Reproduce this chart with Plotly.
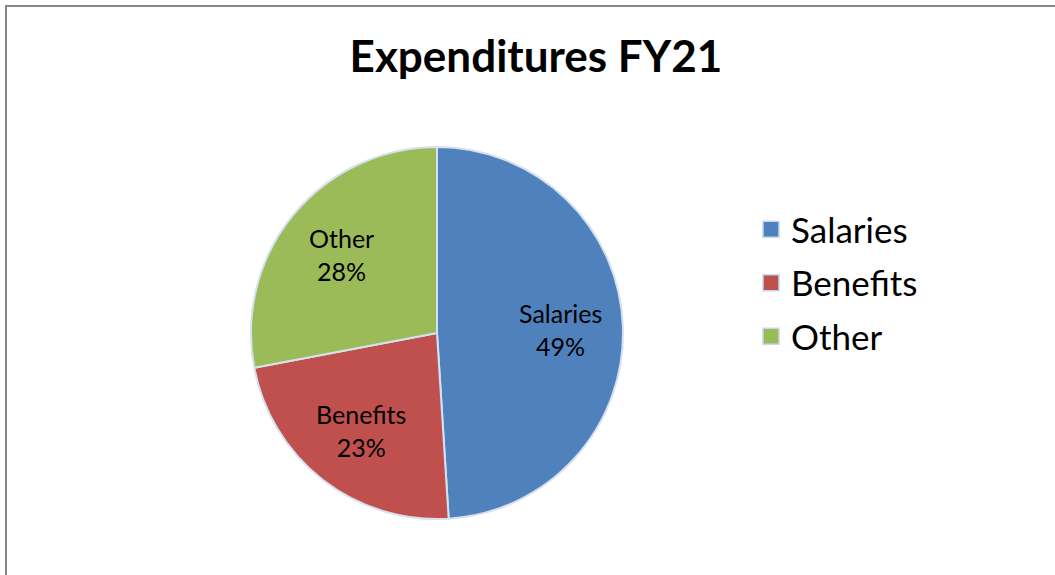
import math
import plotly.graph_objects as go

categories = ["Salaries", "Benefits", "Other"]
values = [49, 23, 28]
colors = ["#4f81bd", "#c0504d", "#9bbb59"]
title_text = "Expenditures FY21"

W, H = 1055, 575
FONT = "Lato, Calibri, Carlito, sans-serif"

CX, CY, R = 437, 333, 186  # pie centre / radius in pixels (from top-left)

fig = go.Figure()

fig.add_trace(go.Pie(
    labels=categories,
    values=values,
    sort=False,
    direction="clockwise",
    rotation=0,
    marker=dict(colors=colors, line=dict(color="#d5e1f0", width=2)),
    textinfo="none",
    showlegend=False,
    hoverinfo="label+percent",
    domain=dict(x=[(CX - R) / W, (CX + R) / W],
                y=[(H - CY - R) / H, (H - CY + R) / H]),
))

# data labels placed at each slice's mid-angle
total = sum(values)
annotations = []
cum = 0
for cat, v in zip(categories, values):
    mid = (cum + v / 2) / total * 2 * math.pi  # clockwise from 12 o'clock
    cum += v
    r = 0.665 * R
    px = CX + r * math.sin(mid)
    py = CY - r * math.cos(mid)
    pct = round(v / total * 100)
    annotations.append(dict(
        x=px / W, y=1 - py / H, xref="paper", yref="paper",
        text=f"{cat}<br>{pct}%", showarrow=False,
        xanchor="center", yanchor="middle", align="center",
        font=dict(family=FONT, size=25, color="#000000"),
    ))

# legend entries (square swatches) driven by the same categories
for cat, col in zip(categories, colors):
    fig.add_trace(go.Scatter(
        x=[None], y=[None], mode="markers", name=cat,
        legendgroup=cat,
        marker=dict(symbol="square", size=16, color=col,
                    line=dict(color="#c6d7ee", width=1.5)),
        hoverinfo="skip",
    ))

fig.update_layout(
    width=W, height=H,
    margin=dict(l=0, r=0, t=0, b=0),
    paper_bgcolor="white",
    plot_bgcolor="white",
    title=dict(text=title_text, x=0.508, xanchor="center",
               y=1 - 57 / H, yanchor="middle",
               font=dict(family=FONT, size=44, color="#000000", weight="bold")),
    legend=dict(x=751 / W, xanchor="left", y=1 - 283 / H, yanchor="middle",
                font=dict(family=FONT, size=35, color="#000000"),
                tracegroupgap=5, traceorder="grouped",
                bgcolor="rgba(0,0,0,0)"),
    annotations=annotations,
    xaxis=dict(visible=False),
    yaxis=dict(visible=False),
    shapes=[dict(type="rect", xref="paper", yref="paper",
                 x0=6 / W, x1=1.2, y0=-0.2, y1=1 - 6 / H,
                 line=dict(color="#868686", width=2), layer="above")],
)

fig.write_html("out.html")
